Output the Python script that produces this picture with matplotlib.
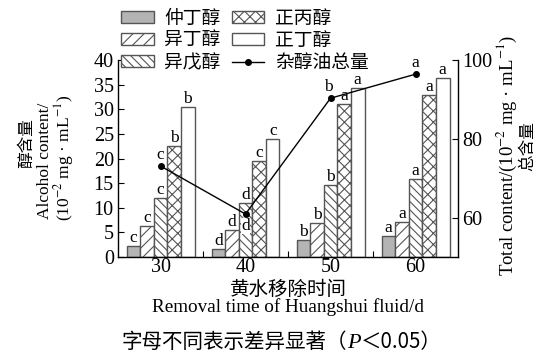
import numpy as np
import matplotlib.pyplot as plt
from matplotlib.patches import Patch
from matplotlib.lines import Line2D

plt.rcParams['font.family'] = ['Liberation Serif', 'Noto Sans CJK SC']
plt.rcParams['mathtext.fontset'] = 'stix'
plt.rcParams['hatch.color'] = '#444444'
plt.rcParams['hatch.linewidth'] = 0.8

CJK = ['Noto Sans CJK SC', 'Liberation Serif']

# removal time of Huangshui fluid (d)
days = ['30', '40', '50', '60']
alcohols = ['仲丁醇', '异丁醇', '异戊醇', '正丙醇', '正丁醇']

# alcohol content, 10^-2 mg/mL, one list per alcohol
sec_butanol = [2.2, 1.6, 3.5, 4.3]
isobutanol = [6.2, 5.4, 6.9, 7.2]
isoamyl = [12.0, 10.9, 14.6, 15.8]
n_propanol = [22.5, 19.5, 31.1, 32.9]
n_butanol = [30.5, 24.0, 34.4, 36.3]

# significance letters for each alcohol across days
sec_butanol_sig = ['c', 'd', 'b', 'a']
isobutanol_sig = ['c', 'd', 'b', 'a']
isoamyl_sig = ['c', 'd', 'b', 'a']
n_propanol_sig = ['b', 'c', 'a', 'a']
n_butanol_sig = ['b', 'c', 'a', 'a']

# total fusel oil content, 10^-2 mg/mL
total = [73.1, 60.9, 90.3, 96.4]
total_sig = ['c', 'd', 'b', 'a']

values = [sec_butanol, isobutanol, isoamyl, n_propanol, n_butanol]
letters = [sec_butanol_sig, isobutanol_sig, isoamyl_sig, n_propanol_sig, n_butanol_sig]
fills = ['#b4b4b4', 'white', 'white', 'white', 'white']
hatches = ['', '///', '\\\\\\\\', 'xxx', '']

fig = plt.figure(figsize=(5.46, 3.52), dpi=100)
ax = fig.add_axes([118 / 546, 1 - 257 / 352, 340 / 546, 197 / 352])
ax2 = ax.twinx()

x = np.arange(len(days))
w = 0.16
edge = '#555555'
lab_size = 12.5
for j in range(5):
    pos = x + (j - 2) * w
    ax.bar(pos, values[j], w, color=fills[j], edgecolor=edge, hatch=hatches[j],
           linewidth=1.0, zorder=2)
    for xi, v, s in zip(pos, values[j], letters[j]):
        ax.text(xi, v, s, ha='center', va='bottom', fontsize=lab_size, zorder=3)

ax2.plot(x, total, color='black', lw=1.0, marker='o', markersize=4, zorder=5)
for xi, v, s in zip(x, total, total_sig):
    if s == 'd':
        ax2.text(xi, v - 1.0, s, ha='center', va='top', fontsize=lab_size, zorder=6,
                 bbox=dict(facecolor='white', edgecolor='none', pad=0.2))
    elif s == 'b':
        ax2.text(xi - 0.03, v + 0.8, s, ha='center', va='bottom', fontsize=lab_size, zorder=6)
    else:
        ax2.text(xi, v + 0.8, s, ha='center', va='bottom', fontsize=lab_size, zorder=6)

ax2.set_zorder(ax.get_zorder() + 1)
ax2.patch.set_visible(False)

tick_size = 14.5
ax.set_xlim(-0.5, 3.5)
ax.set_ylim(0, 40)
ax.set_yticks(np.arange(0, 41, 5))
ax.set_xticks(x)
ax.set_xticklabels(days)
ax.set_xticks([0.5, 1.5, 2.5], minor=True)
ax.tick_params(axis='x', which='major', length=0, labelsize=tick_size, pad=1)
ax.tick_params(axis='x', which='minor', direction='in', length=4, width=0.8)
ax.tick_params(axis='y', direction='in', length=4, width=0.8, labelsize=tick_size, pad=3)

ax2.set_ylim(50, 100)
ax2.set_yticks([60, 80, 100])
ax2.tick_params(axis='y', direction='in', length=4, width=0.8, labelsize=tick_size, pad=3)

for a in (ax, ax2):
    a.spines['top'].set_visible(False)
    for sp in a.spines.values():
        sp.set_linewidth(1.0)
ax.spines['right'].set_visible(False)
ax2.spines['left'].set_visible(False)
ax2.spines['bottom'].set_visible(False)

# axis titles
fig.text(27 / 546, 1 - 143 / 352, '醇含量', rotation=90, ha='center', va='center',
         family=CJK, fontsize=12)
fig.text(45 / 546, 1 - 161 / 352, 'Alcohol content/', rotation=90, ha='center',
         va='center', fontsize=12.5)
fig.text(64 / 546, 1 - 158 / 352, '(10$^{-2}$ mg · mL$^{-1}$)', rotation=90,
         ha='center', va='center', fontsize=12.5)
fig.text(507 / 546, 1 - 156 / 352, 'Total content/(10$^{-2}$ mg · mL$^{-1}$)',
         rotation=90, ha='center', va='center', fontsize=13.5)
fig.text(528 / 546, 1 - 146 / 352, '总含量', rotation=90, ha='center', va='center',
         family=CJK, fontsize=12)

fig.text(288 / 546, 1 - 289 / 352, '黄水移除时间', ha='center', va='center',
         family=CJK, fontsize=14)
fig.text(288 / 546, 1 - 307.5 / 352, 'Removal time of Huangshui fluid/d', ha='center',
         va='center', fontsize=13.8)

# caption with italic P
cap1 = fig.text(122 / 546, 1 - 348 / 352, '字母不同表示差异显著（', ha='left',
                va='baseline', family=CJK, fontsize=14.8)
cap2 = ax.annotate('P', xy=(1, 0), xycoords=cap1, ha='left', va='bottom',
                   fontsize=16, style='italic', annotation_clip=False)
ax.annotate('＜0.05）', xy=(1, 0), xycoords=cap2, ha='left', va='bottom',
            family=CJK, fontsize=14.8, annotation_clip=False)

handles = [Patch(facecolor=fills[j], edgecolor=edge, hatch=hatches[j], linewidth=1.0)
           for j in range(5)]
handles.append(Line2D([], [], color='black', lw=1.0, marker='o', markersize=4))
labels = alcohols + ['杂醇油总量']
fig.legend(handles, labels, ncol=2, loc='upper left',
           bbox_to_anchor=(121 / 546, 1 - 8 / 352), frameon=False,
           prop=dict(family=CJK, size=13.5), handlelength=1.75, handleheight=0.6,
           handletextpad=0.55, columnspacing=0.6, labelspacing=0.05, borderpad=0,
           borderaxespad=0)

fig.savefig('out.png', dpi=100)
